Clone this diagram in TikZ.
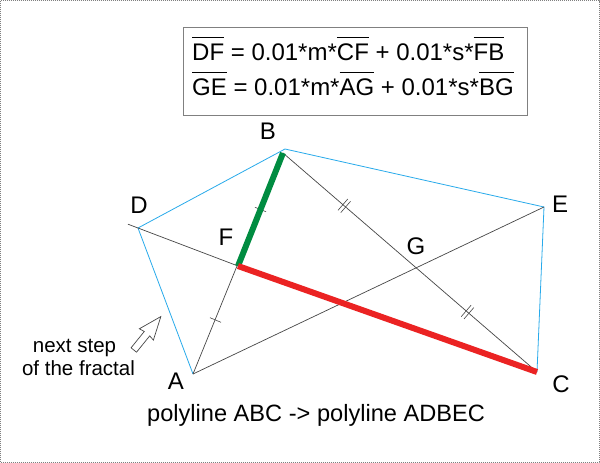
\documentclass[tikz,border=0pt]{standalone}
\usepackage{fontspec}
\setmainfont{Liberation Sans}
\usetikzlibrary{calc}
\definecolor{lblue}{RGB}{40,170,235}
\definecolor{dgreen}{RGB}{0,140,65}
\definecolor{lred}{RGB}{235,35,35}
\definecolor{thinc}{RGB}{70,70,70}
\newcommand{\ovl}[1]{$\overline{\hbox{\rule{0pt}{21.5pt}#1}}$}
\begin{document}
\begin{tikzpicture}[x=1pt,y=-1pt,
  thinline/.style={draw=thinc, line width=0.7pt},
  blueline/.style={draw=lblue, line width=0.8pt},
  lbl/.style={font=\fontsize{24}{28}\selectfont, inner sep=0pt},
  txt/.style={font=\fontsize{24}{28}\selectfont, inner sep=0pt, anchor=base west},
  smalltxt/.style={font=\fontsize{20.5}{23}\selectfont, inner sep=0pt, anchor=base},
  tickmark/.style={sloped, inner sep=0pt, text=thinc},
]
\useasboundingbox (0,0) rectangle (600,463);
\fill[white] (0,0) rectangle (600,463);
\draw[gray, line width=1pt, dash pattern=on 1pt off 1pt] (0.5,0.5) rectangle (599.5,462.5);

% points
\coordinate (A) at (193,374);
\coordinate (B) at (283,153);
\coordinate (C) at (537,372);
\coordinate (D) at (138,228);
\coordinate (E) at (544,207);
\coordinate (F) at (238,266);
\coordinate (G) at (intersection of B--C and A--E);
\coordinate (D0) at ($(D)!-0.1!(F)$);
\coordinate (Bb) at ($(B)+(2,-4)$);

% blue polyline ADBEC
\draw[blueline] (A) -- (D) -- (Bb) -- (E) -- (C);

% thin construction lines
\draw[thinline] (A) -- (B);
\draw[thinline] (B) -- (C);
\draw[thinline] (A) -- (E);
\draw[thinline] (D0) -- (F);

% tick marks
\path (A) -- (F) node[tickmark, pos=0.5] {\rule{0.6pt}{12pt}};
\path (F) -- (B) node[tickmark, pos=0.5] {\rule{0.6pt}{12pt}};
\path (B) -- (G) node[tickmark, pos=0.46] {\rule{0.6pt}{15pt}\hspace{3pt}\rule{0.6pt}{15pt}};
\path (G) -- (C) node[tickmark, pos=0.425] {\rule{0.6pt}{15pt}\hspace{3pt}\rule{0.6pt}{15pt}};

% thick segments
\draw[dgreen, line width=6pt] (F) -- (B);
\draw[lred, line width=6pt] (F) -- (C);

% point labels
\node[lbl] (lA) at (176,381) {A};
\node[lbl] (lB) at (268,131) {B};
\node[lbl] (lC) at (561,384) {C};
\node[lbl] (lD) at (139,205) {D};
\node[lbl] (lE) at (560,204) {E};
\node[lbl] (lF) at (226,237) {F};
\node[lbl] (lG) at (416,246) {G};

% formula box
\draw[gray, line width=0.8pt] (183,27) rectangle (527,115);
\node[txt] (f1) at (192,60) {\ovl{DF} = 0.01*m*\ovl{CF} + 0.01*s*\ovl{FB}};
\node[txt] (f2) at (192,95) {\ovl{GE} = 0.01*m*\ovl{AG} + 0.01*s*\ovl{BG}};

% hollow arrow
\draw[thinc, line width=0.7pt, fill=white, line join=miter]
  (131.08,347.80) -- (144.29,331.46) -- (139.38,328.78) -- (160.85,316.55)
  -- (153.38,340.10) -- (149.73,335.86) -- (136.52,352.20) -- cycle;

\node[smalltxt] (n1) at (74.5,352) {next step};
\node[smalltxt] (n2) at (78.5,375) {of the fractal};

\node[txt, font=\fontsize{23.6}{28}\selectfont] (bottom) at (147,421) {polyline ABC -> polyline ADBEC};
\end{tikzpicture}
\end{document}
